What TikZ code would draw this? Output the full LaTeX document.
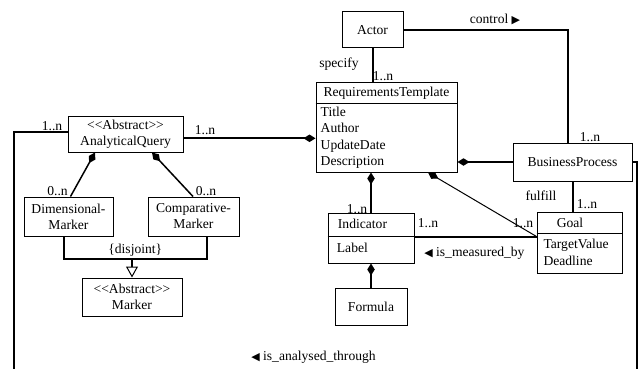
\documentclass[tikz,border=0pt]{standalone}
\usepackage{fontspec}
\setmainfont{Liberation Serif}
\newfontfamily\symf{DejaVu Sans}
\usetikzlibrary{arrows.meta}
\newcommand{\tri}[1]{{\symf\fontsize{11}{11}\selectfont #1}}
\begin{document}
\begin{tikzpicture}[x=1pt,y=-1pt,
  every node/.style={font=\fontsize{13.6}{16}\selectfont},
  box/.style={draw,line width=1pt,inner sep=0pt,align=center},
  lbl/.style={inner sep=0pt,text height=9pt,text depth=0pt},
  attr/.style={lbl,anchor=west},
  conn/.style={line width=2pt},
  midconn/.style={line width=1.5pt},
  thinconn/.style={line width=1.2pt},
  comp/.style={{Diamond[length=12pt,width=7.5pt]}-},
  gen/.style={-{Triangle[open,length=11pt,width=12pt,line width=1pt]}}
]
\useasboundingbox (0,0) rectangle (642,369);

% ---------- classes ----------
\node[box,minimum width=61pt,minimum height=36pt] (actor) at (372.5,30) {Actor};

\node[box,minimum width=141pt,minimum height=90pt] (rt) at (386.5,127) {};
\draw[line width=1pt] (rt.west |- 0,103) -- (rt.east |- 0,103);
\node[lbl] (rthead) at (386.5,92) {RequirementsTemplate};
\node[attr] (rta1) at (320.5,111.5) {Title};
\node[attr] (rta2) at (320.5,128.2) {Author};
\node[attr] (rta3) at (320.5,144.6) {UpdateDate};
\node[attr] (rta4) at (320.5,161) {Description};

\node[box,minimum width=115pt,minimum height=36pt] (aq) at (125.5,134)
  {<{}<Abstract>{}>\\AnalyticalQuery};
\node[box,minimum width=89pt,minimum height=39pt] (dm) at (68.5,216.5)
  {Dimensional-\\Marker};
\node[box,minimum width=91pt,minimum height=39pt] (cm) at (193.5,216.5)
  {Comparative-\\Marker};
\node[box,minimum width=100pt,minimum height=38pt] (mk) at (132,297)
  {<{}<Abstract>{}>\\Marker};

\node[box,minimum width=119pt,minimum height=38pt] (bp) at (572.5,162) {BusinessProcess};

\node[box,minimum width=85pt,minimum height=61pt] (goal) at (579.5,242.5) {};
\draw[line width=1pt] (goal.west |- 0,233.3) -- (goal.east |- 0,233.3);
\node[lbl] (goalhead) at (570,223.3) {Goal};
\node[attr] (ga1) at (543.3,244.3) {TargetValue};
\node[attr] (ga2) at (543.3,261) {Deadline};

\node[box,minimum width=86pt,minimum height=50pt] (ind) at (371,238) {};
\draw[line width=1pt] (ind.west |- 0,236.7) -- (ind.east |- 0,236.7);
\node[lbl] (indhead) at (362.5,224.3) {Indicator};
\node[attr] (ia1) at (336.7,248.3) {Label};

\node[box,minimum width=72pt,minimum height=37pt] (formula) at (371,306.5) {Formula};

% ---------- free ends of the loop that runs below ----------
\coordinate (loopL) at (14,373);
\coordinate (loopR) at (637,373);

% ---------- associations ----------
\draw[conn] (actor.south) -- (actor.south |- rt.north);
\draw[midconn] (actor.east) -| (bp.north -| 568,0);
\draw[conn,comp] (rt.west |- 0,138.3) -- (aq.east |- 0,138.3);
\draw[conn,comp] (rt.east |- 0,162) -- (bp.west);
\draw[conn] (bp.south) -- (bp.south |- goal.north);
\draw[conn,comp] (rt.south -| ind.north) -- (ind.north);
\draw[line width=1pt,comp] (rt.south -| 428,0) -- (goal.west |- 0,236.5);
\draw[conn] (ind.east |- 0,236.7) -- (goal.west |- 0,236.7);
\draw[conn,comp] (ind.south) -- (formula.north);
\draw[midconn,comp] (aq.south -| 95,0) -- (dm.north -| 70.5,0);
\draw[midconn,comp] (aq.south -| 152,0) -- (cm.north -| 193,0);
\draw[thinconn] (aq.west |- 0,132) -| (loopL);
\draw[thinconn] (bp.east) -| (loopR);

% ---------- generalisation ----------
\coordinate (genj) at (132,259.3);
\draw[conn] (dm.south -| 64,0) |- (genj) -| (cm.south -| 207.3,0);
\draw[conn,gen] (genj) -- (mk.north);

% ---------- labels ----------
\node[lbl] (lcontrol) at (495,19) {control \tri{▶}};
\node[lbl] (lspecify) at (339,63) {specify};
\node[lbl] (m1) at (383,76) {1..n};
\node[lbl] (m2) at (52,126) {1..n};
\node[lbl] (m3) at (205,130) {1..n};
\node[lbl] (m4) at (57.5,191) {0..n};
\node[lbl] (m5) at (206,191) {0..n};
\node[lbl] (ldisj) at (135.3,249.3) {\{disjoint\}};
\node[lbl] (m6) at (590,136.7) {1..n};
\node[lbl] (lfulfill) at (541,195.7) {fulfill};
\node[lbl] (m7) at (587,204) {1..n};
\node[lbl] (m8) at (357,209) {1..n};
\node[lbl] (m9) at (428,223.3) {1..n};
\node[lbl] (m10) at (523,223.3) {1..n};
\node[lbl] (lmeas) at (474.4,251.7) {\tri{◀} is\_measured\_by};
\node[lbl] (lanal) at (313.5,356) {\tri{◀} is\_analysed\_through};
\end{tikzpicture}
\end{document}
